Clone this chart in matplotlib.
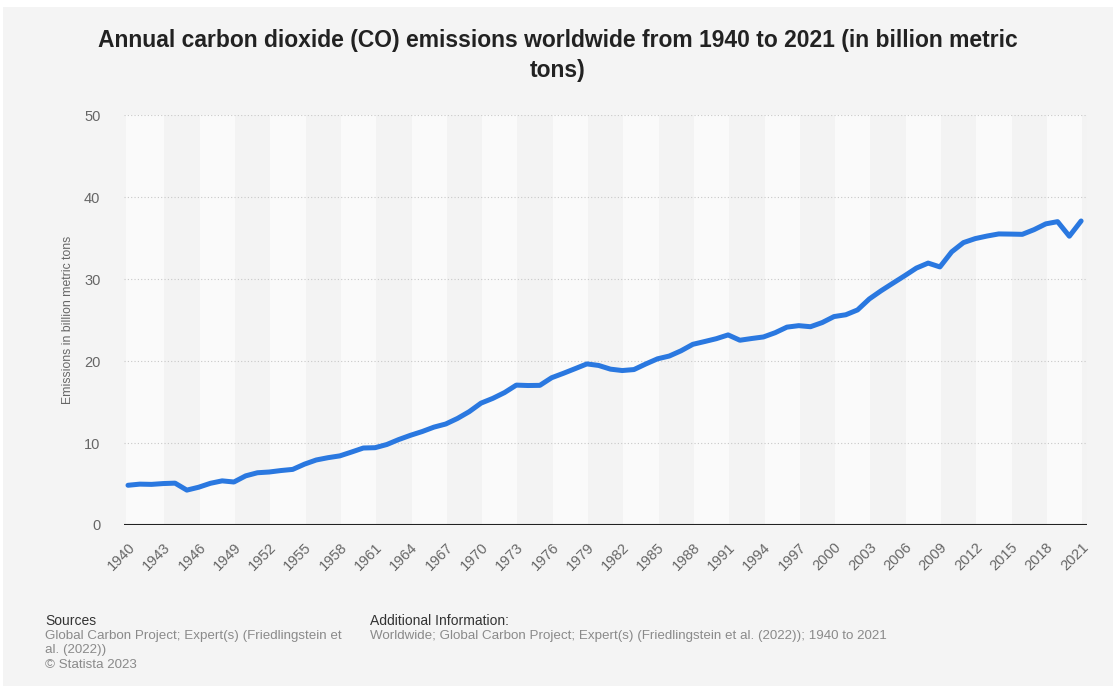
import matplotlib
matplotlib.use("Agg")
import matplotlib.pyplot as plt
from matplotlib.patches import Rectangle

years = list(range(1940, 2022))
emissions = [4.85, 4.99, 4.96, 5.06, 5.11, 4.26, 4.61, 5.09, 5.39, 5.25,
             6.00, 6.38, 6.47, 6.65, 6.79, 7.43, 7.94, 8.22, 8.44, 8.91,
             9.40, 9.44, 9.83, 10.43, 10.95, 11.41, 11.95, 12.33, 13.01, 13.84,
             14.88, 15.46, 16.17, 17.08, 17.03, 17.05, 17.98, 18.52, 19.09, 19.67,
             19.48, 19.03, 18.86, 18.98, 19.66, 20.29, 20.63, 21.27, 22.06, 22.40,
             22.75, 23.21, 22.56, 22.77, 22.96, 23.48, 24.16, 24.34, 24.21, 24.72,
             25.45, 25.67, 26.26, 27.60, 28.60, 29.52, 30.43, 31.37, 31.98, 31.51,
             33.35, 34.48, 34.97, 35.28, 35.54, 35.52, 35.49, 36.06, 36.77, 37.04,
             35.26, 37.12]
xticks = list(range(1940, 2022, 3))
yticks = [0, 10, 20, 30, 40, 50]

base = "Liberation Sans"

W, H = 1116, 686
fig = plt.figure(figsize=(W / 100, H / 100), dpi=100, facecolor="white")
fig.patches.append(Rectangle((3 / W, 0), (W - 6) / W, (H - 7) / H,
                             transform=fig.transFigure, facecolor="#f4f4f4",
                             edgecolor="none", zorder=-10))

ax = fig.add_axes([124 / W, 1 - 525 / H, (1087 - 124) / W, (525 - 115.5) / H])
ax.set_facecolor("none")
x0, x1 = 1939.66, 2021.5
ax.set_xlim(x0, x1)
ax.set_ylim(0, 50)

# alternating bands
for i, t in enumerate(xticks):
    left = max(x0, t - 0.15) if i == 0 else t + 0.1
    right = min(x1, t + 3.1)
    col = "#fafafa" if i % 2 == 0 else "#f3f3f3"
    ax.axvspan(left, right, color=col, zorder=0, lw=0)

for y in yticks[1:]:
    ax.axhline(y, color="#c8c8c8", lw=0.8, ls=(0, (1, 2)), zorder=1)
ax.axhline(0, color="#222222", lw=1.5, zorder=3)

ax.plot(years, emissions, color="#2a78e0", lw=3.6, solid_capstyle="round",
        solid_joinstyle="round", zorder=4)

for s in ax.spines.values():
    s.set_visible(False)
ax.set_xticks(xticks)
ax.set_xticklabels([str(t) for t in xticks], rotation=45, ha="right",
                   rotation_mode="anchor", fontsize=10.5, color="#666666", family=base)
ax.set_yticks(yticks)
ax.set_yticklabels([str(t) for t in yticks], fontsize=10.5, color="#666666", family=base)
ax.tick_params(axis="both", length=0)
ax.tick_params(axis="x", pad=11)
ax.tick_params(axis="y", pad=17)
ax.set_ylabel("Emissions in billion metric tons", fontsize=8.8, color="#666666",
              family=base, labelpad=7)

title_kw = dict(ha="center", va="center", fontsize=16.5, fontweight="bold",
                color="#222222", family=base)
fig.text(0.5, 1 - 40 / H,
         "Annual carbon dioxide (CO) emissions worldwide from 1940 to 2021 (in billion metric",
         **title_kw)
fig.text(0.5, 1 - 70 / H, "tons)", **title_kw)

fig.text(45 / W, 1 - 621 / H, "Sources", ha="left", va="center", fontsize=10,
         color="#333333", family=base)
fig.text(45 / W, 1 - 636 / H, "Global Carbon Project; Expert(s) (Friedlingstein et",
         ha="left", va="center", fontsize=9.6, color="#8a8a8a", family=base)
fig.text(45 / W, 1 - 650.5 / H, "al. (2022))", ha="left", va="center", fontsize=9.6,
         color="#8a8a8a", family=base)
fig.text(45 / W, 1 - 665 / H, "\u00a9 Statista 2023", ha="left", va="center", fontsize=9.6,
         color="#8a8a8a", family=base)
fig.text(370 / W, 1 - 621 / H, "Additional Information:", ha="left", va="center", fontsize=10,
         color="#333333", family=base)
fig.text(370 / W, 1 - 636 / H,
         "Worldwide; Global Carbon Project; Expert(s) (Friedlingstein et al. (2022)); 1940 to 2021",
         ha="left", va="center", fontsize=9.6, color="#8a8a8a", family=base)

fig.savefig("out.png", dpi=100, facecolor="white")
